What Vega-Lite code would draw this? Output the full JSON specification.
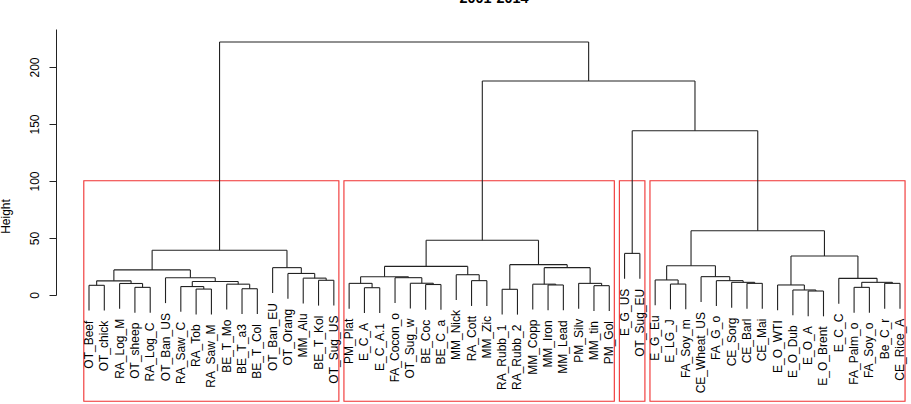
{
  "$schema": "https://vega.github.io/schema/vega-lite/v6.json",
  "width": 855,
  "height": 266,
  "autosize": {"type": "none"},
  "padding": {"left": 56, "top": 29, "right": 0, "bottom": 109},
  "background": "white",
  "title": {
    "text": "2001-2014",
    "font": "Liberation Sans",
    "fontSize": 14.4,
    "fontWeight": "bold",
    "color": "black",
    "anchor": "middle",
    "frame": "group",
    "baseline": "alphabetic",
    "offset": 12,
    "dx": 10.5
  },
  "config": {
    "view": {"stroke": null},
    "font": "Liberation Sans",
    "axisY": {
      "grid": false,
      "tickSize": 7,
      "tickWidth": 1,
      "tickColor": "#222222",
      "domainColor": "#222222",
      "domainWidth": 1,
      "labelAngle": 270,
      "labelAlign": "center",
      "labelBaseline": "alphabetic",
      "labelPadding": 10.7,
      "labelFont": "Liberation Sans",
      "labelFontSize": 12,
      "labelColor": "black",
      "labelFlush": false,
      "labelOverlap": false,
      "titleFont": "Liberation Sans",
      "titleFontSize": 12,
      "titleFontWeight": "normal",
      "titleColor": "black",
      "titleAngle": 270,
      "titleAlign": "center",
      "titleBaseline": "alphabetic",
      "titleX": -46.5,
      "titleY": 187
    }
  },
  "datasets": {
    "merges": [
      {"node": "m1", "lx": 0, "rx": 1, "h": 8.5, "lh": -13.7, "rh": -13.7},
      {"node": "m2", "lx": 3, "rx": 4, "h": 6.7, "lh": -15.5, "rh": -15.5},
      {"node": "m3", "lx": 2, "rx": 3.5, "h": 10.1, "lh": -12.1, "rh": 6.7},
      {"node": "m4", "lx": 0.5, "rx": 2.75, "h": 12.4, "lh": 8.5, "rh": 10.1},
      {"node": "m5", "lx": 7, "rx": 8, "h": 5.2, "lh": -17, "rh": -17},
      {"node": "m6", "lx": 6, "rx": 7.5, "h": 7.4, "lh": -14.8, "rh": 5.2},
      {"node": "m7", "lx": 10, "rx": 11, "h": 5.5, "lh": -16.7, "rh": -16.7},
      {"node": "m8", "lx": 9, "rx": 10.5, "h": 9.5, "lh": -12.7, "rh": 5.5},
      {"node": "m9", "lx": 6.75, "rx": 9.75, "h": 11.8, "lh": 7.4, "rh": 9.5},
      {"node": "m10", "lx": 5, "rx": 8.25, "h": 15.1, "lh": -7.1, "rh": 11.8},
      {"node": "m11", "lx": 1.625, "rx": 6.625, "h": 22, "lh": 12.4, "rh": 15.1},
      {"node": "m12", "lx": 15, "rx": 16, "h": 12.9, "lh": -9.3, "rh": -9.3},
      {"node": "m13", "lx": 14, "rx": 15.5, "h": 14.8, "lh": -7.4, "rh": 12.9},
      {"node": "m14", "lx": 13, "rx": 14.75, "h": 18.9, "lh": -3.3, "rh": 14.8},
      {"node": "m15", "lx": 12, "rx": 13.875, "h": 24, "lh": 1.8, "rh": 18.9},
      {"node": "m16", "lx": 4.125, "rx": 12.9375, "h": 39.3, "lh": 22, "rh": 24},
      {"node": "n1", "lx": 18, "rx": 19, "h": 6.4, "lh": -15.8, "rh": -15.8},
      {"node": "n2", "lx": 17, "rx": 18.5, "h": 10.2, "lh": -12, "rh": 6.4},
      {"node": "n3", "lx": 22, "rx": 23, "h": 9.2, "lh": -13, "rh": -13},
      {"node": "n4", "lx": 21, "rx": 22.5, "h": 10.3, "lh": -11.9, "rh": 9.2},
      {"node": "n5", "lx": 20, "rx": 21.75, "h": 15.2, "lh": -7, "rh": 10.3},
      {"node": "n6", "lx": 17.75, "rx": 20.875, "h": 16, "lh": 10.2, "rh": 15.2},
      {"node": "n7", "lx": 25, "rx": 26, "h": 12.6, "lh": -9.6, "rh": -9.6},
      {"node": "n8", "lx": 24, "rx": 25.5, "h": 17.8, "lh": -4.4, "rh": 12.6},
      {"node": "n9", "lx": 19.3125, "rx": 24.75, "h": 25.1, "lh": 16, "rh": 17.8},
      {"node": "n10", "lx": 27, "rx": 28, "h": 5, "lh": -17.2, "rh": -17.2},
      {"node": "n11", "lx": 30, "rx": 31, "h": 8.8, "lh": -13.4, "rh": -13.4},
      {"node": "n12", "lx": 29, "rx": 30.5, "h": 9.5, "lh": -12.7, "rh": 8.8},
      {"node": "n13", "lx": 33, "rx": 34, "h": 8.2, "lh": -14, "rh": -14},
      {"node": "n14", "lx": 32, "rx": 33.5, "h": 10.2, "lh": -12, "rh": 8.2},
      {"node": "n15", "lx": 29.75, "rx": 32.75, "h": 24, "lh": 9.5, "rh": 10.2},
      {"node": "n16", "lx": 27.5, "rx": 31.25, "h": 26.6, "lh": 5, "rh": 24},
      {"node": "n17", "lx": 22.03125, "rx": 29.375, "h": 48, "lh": 25.1, "rh": 26.6},
      {"node": "c1", "lx": 35, "rx": 36, "h": 36.5, "lh": 14.3, "rh": 14.3},
      {"node": "p1", "lx": 38, "rx": 39, "h": 9.6, "lh": -12.6, "rh": -12.6},
      {"node": "p2", "lx": 37, "rx": 38.5, "h": 13.2, "lh": -9, "rh": 9.6},
      {"node": "p3", "lx": 43, "rx": 44, "h": 10.2, "lh": -12, "rh": -12},
      {"node": "p4", "lx": 42, "rx": 43.5, "h": 11.1, "lh": -11.1, "rh": 10.2},
      {"node": "p5", "lx": 41, "rx": 42.75, "h": 12.6, "lh": -9.6, "rh": 11.1},
      {"node": "p6", "lx": 40, "rx": 41.875, "h": 16.1, "lh": -6.1, "rh": 12.6},
      {"node": "p7", "lx": 37.75, "rx": 40.9375, "h": 25.7, "lh": 13.2, "rh": 16.1},
      {"node": "p8", "lx": 47, "rx": 48, "h": 3.5, "lh": -18.7, "rh": -18.7},
      {"node": "p9", "lx": 46, "rx": 47.5, "h": 4.4, "lh": -17.8, "rh": 3.5},
      {"node": "p10", "lx": 45, "rx": 46.75, "h": 8.8, "lh": -13.4, "rh": 4.4},
      {"node": "p11", "lx": 50, "rx": 51, "h": 6.7, "lh": -15.5, "rh": -15.5},
      {"node": "p12", "lx": 52, "rx": 53, "h": 10.2, "lh": -12, "rh": -12},
      {"node": "p13", "lx": 50.5, "rx": 52.5, "h": 11.1, "lh": 6.7, "rh": 10.2},
      {"node": "p14", "lx": 49, "rx": 51.5, "h": 14.6, "lh": -7.6, "rh": 11.1},
      {"node": "p15", "lx": 45.875, "rx": 50.25, "h": 34.2, "lh": 8.8, "rh": 14.6},
      {"node": "p16", "lx": 39.34375, "rx": 48.0625, "h": 56.4, "lh": 25.7, "rh": 34.2},
      {"node": "q1", "lx": 35.5, "rx": 43.703125, "h": 144.1, "lh": 36.5, "rh": 56.4},
      {"node": "q2", "lx": 25.703125, "rx": 39.6015625, "h": 187.7, "lh": 48, "rh": 144.1},
      {"node": "q3", "lx": 8.53125, "rx": 32.65234375, "h": 221.9, "lh": 39.3, "rh": 187.7}
    ],
    "leaves": [
      {"label": "OT_Beef", "pos": 0, "bottom": -13.7},
      {"label": "OT_chick", "pos": 1, "bottom": -13.7},
      {"label": "RA_Log_M", "pos": 2, "bottom": -12.1},
      {"label": "OT_sheep", "pos": 3, "bottom": -15.5},
      {"label": "RA_Log_C", "pos": 4, "bottom": -15.5},
      {"label": "OT_Ban_US", "pos": 5, "bottom": -7.1},
      {"label": "RA_Saw_C", "pos": 6, "bottom": -14.8},
      {"label": "RA_Tob", "pos": 7, "bottom": -17},
      {"label": "RA_Saw_M", "pos": 8, "bottom": -17},
      {"label": "BE_T_Mo", "pos": 9, "bottom": -12.7},
      {"label": "BE_T_a3", "pos": 10, "bottom": -16.7},
      {"label": "BE_T_Col", "pos": 11, "bottom": -16.7},
      {"label": "OT_Ban_EU", "pos": 12, "bottom": 1.8},
      {"label": "OT_Orang", "pos": 13, "bottom": -3.3},
      {"label": "MM_Alu", "pos": 14, "bottom": -7.4},
      {"label": "BE_T_Kol", "pos": 15, "bottom": -9.3},
      {"label": "OT_Sug_US", "pos": 16, "bottom": -9.3},
      {"label": "PM_Plat", "pos": 17, "bottom": -12},
      {"label": "E_C_A", "pos": 18, "bottom": -15.8},
      {"label": "E_C_A.1", "pos": 19, "bottom": -15.8},
      {"label": "FA_Cocon_o", "pos": 20, "bottom": -7},
      {"label": "OT_Sug_w", "pos": 21, "bottom": -11.9},
      {"label": "BE_Coc", "pos": 22, "bottom": -13},
      {"label": "BE_C_a", "pos": 23, "bottom": -13},
      {"label": "MM_Nick", "pos": 24, "bottom": -4.4},
      {"label": "RA_Cott", "pos": 25, "bottom": -9.6},
      {"label": "MM_Zic", "pos": 26, "bottom": -9.6},
      {"label": "RA_Rubb_1", "pos": 27, "bottom": -17.2},
      {"label": "RA_Rubb_2", "pos": 28, "bottom": -17.2},
      {"label": "MM_Copp", "pos": 29, "bottom": -12.7},
      {"label": "MM_Iron", "pos": 30, "bottom": -13.4},
      {"label": "MM_Lead", "pos": 31, "bottom": -13.4},
      {"label": "PM_Silv", "pos": 32, "bottom": -12},
      {"label": "MM_tin", "pos": 33, "bottom": -14},
      {"label": "PM_Gol", "pos": 34, "bottom": -14},
      {"label": "E_G_US", "pos": 35, "bottom": 14.3},
      {"label": "OT_Sug_EU", "pos": 36, "bottom": 14.3},
      {"label": "E_G_Eu", "pos": 37, "bottom": -9},
      {"label": "E_LG_J", "pos": 38, "bottom": -12.6},
      {"label": "FA_Soy_m", "pos": 39, "bottom": -12.6},
      {"label": "CE_Wheat_US", "pos": 40, "bottom": -6.1},
      {"label": "FA_G_o", "pos": 41, "bottom": -9.6},
      {"label": "CE_Sorg", "pos": 42, "bottom": -11.1},
      {"label": "CE_Barl", "pos": 43, "bottom": -12},
      {"label": "CE_Mai", "pos": 44, "bottom": -12},
      {"label": "E_O_WTI", "pos": 45, "bottom": -13.4},
      {"label": "E_O_Dub", "pos": 46, "bottom": -17.8},
      {"label": "E_O_A", "pos": 47, "bottom": -18.7},
      {"label": "E_O_Brent", "pos": 48, "bottom": -18.7},
      {"label": "E_C_C", "pos": 49, "bottom": -7.6},
      {"label": "FA_Palm_o", "pos": 50, "bottom": -15.5},
      {"label": "FA_Soy_o", "pos": 51, "bottom": -15.5},
      {"label": "Be_C_r", "pos": 52, "bottom": -12},
      {"label": "CE_Rice_A", "pos": 53, "bottom": -12}
    ],
    "boxes": [
      {"cluster": 1, "from": -0.34, "to": 16.33, "top": 100.25, "bottom": -93.2},
      {"cluster": 2, "from": 16.66, "to": 34.33, "top": 100.25, "bottom": -93.2},
      {"cluster": 3, "from": 34.66, "to": 36.33, "top": 100.25, "bottom": -93.2},
      {"cluster": 4, "from": 36.66, "to": 53.33, "top": 100.25, "bottom": -93.2}
    ]
  },
  "layer": [
    {
      "data": {"name": "boxes"},
      "mark": {"type": "rect", "filled": false, "stroke": "#f03030", "strokeWidth": 1.1},
      "encoding": {
        "x": {"field": "from", "type": "quantitative", "scale": {"domain": [-2.157, 53.719], "nice": false, "zero": false}, "axis": null},
        "x2": {"field": "to"},
        "y": {"field": "top", "type": "quantitative", "title": "Height", "scale": {"domain": [0, 233.3], "nice": false, "zero": false}, "axis": {"values": [0, 50, 100, 150, 200]}},
        "y2": {"field": "bottom"}
      }
    },
    {
      "data": {"name": "merges"},
      "mark": {"type": "rule", "color": "#222222", "strokeWidth": 1.1},
      "encoding": {
        "x": {"field": "lx", "type": "quantitative", "axis": null},
        "x2": {"field": "rx"},
        "y": {"field": "h", "type": "quantitative", "title": "Height", "axis": {"values": [0, 50, 100, 150, 200]}}
      }
    },
    {
      "data": {"name": "merges"},
      "mark": {"type": "rule", "color": "#222222", "strokeWidth": 1.1},
      "encoding": {
        "x": {"field": "lx", "type": "quantitative", "axis": null},
        "y": {"field": "lh", "type": "quantitative", "title": "Height", "axis": {"values": [0, 50, 100, 150, 200]}},
        "y2": {"field": "h"}
      }
    },
    {
      "data": {"name": "merges"},
      "mark": {"type": "rule", "color": "#222222", "strokeWidth": 1.1},
      "encoding": {
        "x": {"field": "rx", "type": "quantitative", "axis": null},
        "y": {"field": "rh", "type": "quantitative", "title": "Height", "axis": {"values": [0, 50, 100, 150, 200]}},
        "y2": {"field": "h"}
      }
    },
    {
      "data": {"name": "leaves"},
      "mark": {"type": "text", "angle": 270, "align": "right", "baseline": "middle", "dx": -10, "font": "Liberation Sans", "fontSize": 12, "color": "black"},
      "encoding": {
        "x": {"field": "pos", "type": "quantitative", "axis": null},
        "y": {"field": "bottom", "type": "quantitative", "title": "Height", "axis": {"values": [0, 50, 100, 150, 200]}},
        "text": {"field": "label"}
      }
    }
  ]
}
